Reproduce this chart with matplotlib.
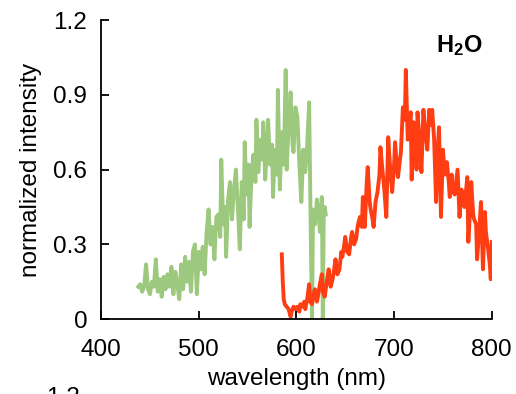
import matplotlib
matplotlib.use("Agg")
import matplotlib.pyplot as plt

plt.rcParams['font.family'] = ['Liberation Sans', 'DejaVu Sans']
plt.rcParams['mathtext.fontset'] = 'custom'
plt.rcParams['mathtext.bf'] = 'Liberation Sans:bold'
plt.rcParams['mathtext.rm'] = 'Liberation Sans'

green_x = [438, 440, 442, 444, 446, 448, 450, 452, 454, 456, 458, 460, 462, 464, 466, 468, 470,
           472, 474, 476, 478, 480, 482, 484, 486, 488, 490, 492, 494, 496, 498, 500, 502, 504,
           506, 508, 510, 512, 514, 516, 518, 520, 522, 523, 525, 527, 528, 530, 532, 534, 536,
           538, 540, 542, 544, 546, 547, 549, 551, 552, 554, 556, 558, 559, 561, 563, 565, 566,
           568, 570, 571, 573, 575, 576, 578, 580, 581, 583, 585, 587, 589, 590, 592, 594, 596,
           597, 599, 601, 603, 605, 607, 609, 611, 613, 614, 615, 616, 617, 619, 621, 623, 624,
           626, 627, 628, 629, 630]
green_y = [0.13, 0.14, 0.11, 0.13, 0.22, 0.12, 0.10, 0.15, 0.13, 0.24, 0.11, 0.16, 0.09, 0.17, 0.12,
           0.18, 0.13, 0.21, 0.10, 0.19, 0.14, 0.08, 0.22, 0.12, 0.25, 0.15, 0.23, 0.11, 0.27, 0.30,
           0.10, 0.27, 0.20, 0.29, 0.18, 0.35, 0.44, 0.30, 0.37, 0.24, 0.41, 0.42, 0.33, 0.64, 0.38,
           0.45, 0.25, 0.48, 0.55, 0.40, 0.52, 0.60, 0.45, 0.28, 0.55, 0.40, 0.71, 0.50, 0.62, 0.37,
           0.58, 0.66, 0.55, 0.80, 0.59, 0.72, 0.64, 0.79, 0.56, 0.70, 0.80, 0.62, 0.70, 0.49, 0.68,
           0.58, 0.92, 0.52, 0.75, 0.62, 1.00, 0.60, 0.78, 0.91, 0.70, 0.67, 0.85, 0.81, 0.62, 0.47,
           0.68, 0.59, 0.70, 0.87, 0.55, 0.24, 0.00, 0.44, 0.38, 0.48, 0.41, 0.35, 0.49, 0.00, 0.43,
           0.45, 0.42]

red_x = [585, 586, 587, 588, 590, 592, 594, 595, 597, 599, 601, 603, 604, 606, 608, 609, 611, 613,
         614, 616, 618, 619, 621, 622, 624, 626, 627, 629, 631, 633, 635, 637, 639, 640, 642, 644,
         646, 647, 649, 650, 652, 654, 656, 657, 659, 661, 663, 665, 667, 668, 670, 672, 673, 675,
         676, 678, 679, 681, 683, 685, 686, 688, 690, 692, 694, 696, 698, 700, 701, 703, 704, 706,
         707, 709, 711, 712, 714, 715, 717, 718, 720, 722, 723, 724, 726, 728, 730, 732, 734, 735,
         736, 738, 739, 741, 743, 745, 746, 748, 750, 752, 754, 756, 757, 759, 760, 762, 765, 767,
         769, 770, 772, 775, 776, 778, 779, 781, 782, 784, 785, 787, 789, 791, 793, 794, 796, 798,
         799, 800]
red_y = [0.26, 0.15, 0.08, 0.06, 0.05, 0.04, 0.01, 0.03, 0.05, 0.04, 0.05, 0.03, 0.06, 0.05, 0.07,
         0.04, 0.08, 0.14, 0.07, 0.06, 0.11, 0.12, 0.07, 0.09, 0.14, 0.18, 0.11, 0.09, 0.15, 0.20,
         0.13, 0.16, 0.21, 0.24, 0.18, 0.20, 0.27, 0.25, 0.30, 0.33, 0.27, 0.26, 0.33, 0.35, 0.30,
         0.32, 0.38, 0.41, 0.37, 0.49, 0.37, 0.55, 0.61, 0.47, 0.44, 0.40, 0.37, 0.47, 0.51, 0.58,
         0.69, 0.60, 0.52, 0.41, 0.73, 0.60, 0.51, 0.62, 0.71, 0.60, 0.57, 0.64, 0.67, 0.85, 0.80,
         1.00, 0.72, 0.77, 0.83, 0.56, 0.79, 0.70, 0.60, 0.83, 0.72, 0.59, 0.84, 0.75, 0.68, 0.76,
         0.84, 0.78, 0.84, 0.72, 0.47, 0.70, 0.77, 0.41, 0.68, 0.58, 0.63, 0.55, 0.49, 0.58, 0.52,
         0.50, 0.60, 0.41, 0.52, 0.49, 0.45, 0.57, 0.31, 0.45, 0.55, 0.42, 0.40, 0.38, 0.24, 0.35,
         0.47, 0.20, 0.43, 0.35, 0.29, 0.22, 0.16, 0.31]

x_ticks = [400, 500, 600, 700, 800]
y_ticks = [0, 0.3, 0.6, 0.9, 1.2]
y_tick_labels = ["0", "0.3", "0.6", "0.9", "1.2"]

fig = plt.figure(figsize=(5.16, 3.94), dpi=100)
ax = fig.add_axes([0.196, 0.190, 0.757, 0.759])

ax.plot(green_x, green_y, color='#9dc97f', lw=2.8, solid_joinstyle='round')
ax.plot(red_x, red_y, color='#ff3d12', lw=2.8, solid_joinstyle='round')

ax.set_xlim(400, 800)
ax.set_ylim(0, 1.2)
ax.set_xticks(x_ticks)
ax.set_yticks(y_ticks)
ax.set_yticklabels(y_tick_labels)
ax.spines['top'].set_visible(False)
ax.spines['right'].set_visible(False)
for s in ('left', 'bottom'):
    ax.spines[s].set_linewidth(1.3)
ax.tick_params(direction='in', length=6, width=1.3, labelsize=17.5)
ax.tick_params(axis='x', pad=14)
ax.tick_params(axis='y', pad=10)
ax.set_xlabel('wavelength (nm)', fontsize=17.5, labelpad=5)
ax.set_ylabel('normalized intensity', fontsize=17.5, labelpad=8)

ax.text(0.916, 0.914, r'$\mathbf{H_2O}$', transform=ax.transAxes, fontsize=17,
        ha='center', va='center')

fig.text(0.122, 0.018, '1.2', fontsize=17.5, ha='center', va='top')

fig.savefig('out.png', dpi=100)
